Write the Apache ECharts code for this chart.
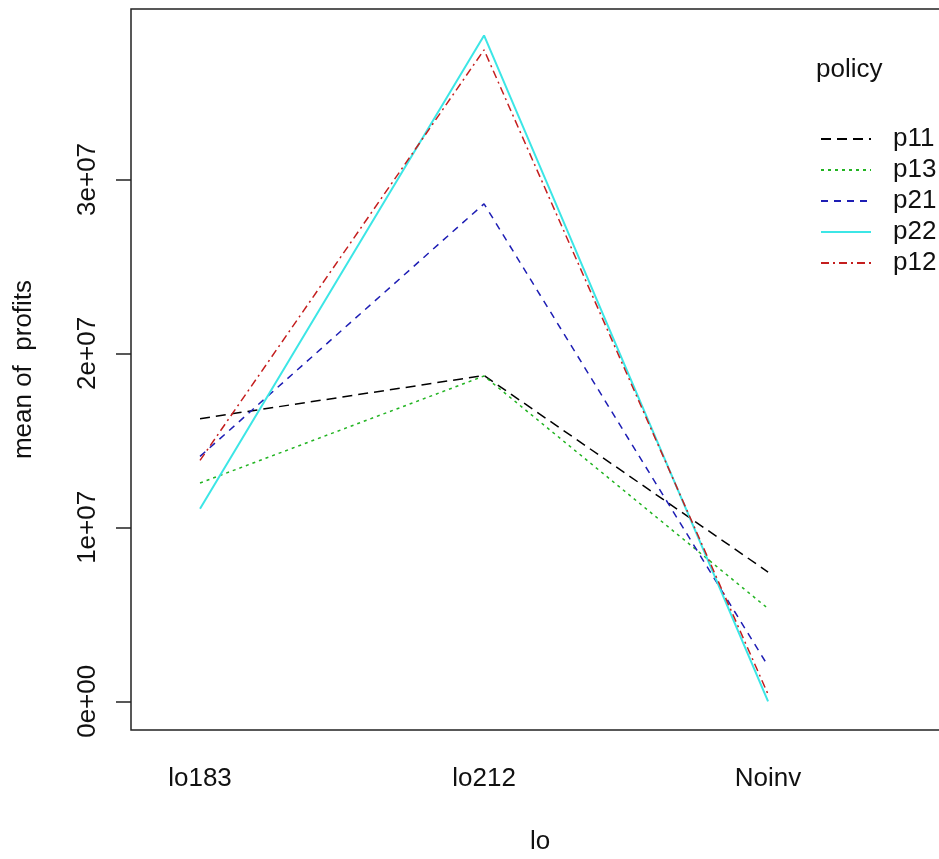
<!DOCTYPE html>
<html>
<head>
<meta charset="utf-8">
<script src="https://cdn.jsdelivr.net/npm/echarts@6/dist/echarts.min.js"></script>
<style>
  html, body { margin: 0; padding: 0; background: #fff; }
  #container { width: 939px; height: 859px; }
</style>
</head>
<body>
<div id="container"></div>
<script>
// levels of lo (x axis)
var categories = ['lo183', 'lo212', 'Noinv'];
// mean profits per policy
var policies = ['p11', 'p13', 'p21', 'p22', 'p12'];
var p11 = [1.625e7, 1.873e7, 0.743e7];
var p13 = [1.255e7, 1.870e7, 0.533e7];
var p21 = [1.408e7, 2.860e7, 0.203e7];
var p22 = [1.107e7, 3.828e7, 0.000e7];
var p12 = [1.385e7, 3.745e7, 0.040e7];
var yTicks = [0, 1e7, 2e7, 3e7];
var yTickLabels = ['0e+00', '1e+07', '2e+07', '3e+07'];

var values = { p11: p11, p13: p13, p21: p21, p22: p22, p12: p12 };
var styles = {
    p11: { color: '#000000', type: [10, 6], width: 1.5 },
    p13: { color: '#22b422', type: [3, 4], width: 1.5 },
    p21: { color: '#1e1eb4', type: [7, 6], width: 1.5 },
    p22: { color: '#3ce6e6', type: 'solid', width: 2 },
    p12: { color: '#c41e1e', type: [8, 4, 2, 4], width: 1.5 }
};

var FONT = 'Liberation Sans, Arial, sans-serif';
var FS = 26;
var dom = document.getElementById('container');
var myChart = echarts.init(dom);

var series = policies.map(function (name) {
    return {
        name: name,
        type: 'line',
        symbol: 'none',
        silent: true,
        animation: false,
        lineStyle: styles[name],
        itemStyle: { color: styles[name].color },
        data: values[name].map(function (v, i) { return [i + 1, v]; })
    };
});

var option = {
    backgroundColor: '#fff',
    title: {
        text: 'policy',
        left: 816,
        top: 57,
        padding: 0,
        textStyle: { fontFamily: FONT, fontSize: FS, fontWeight: 'normal', color: '#111' }
    },
    legend: {
        orient: 'vertical',
        left: 820,
        top: 126,
        padding: 0,
        itemWidth: 50,
        itemHeight: 14,
        itemGap: 5,
        data: policies,
        itemStyle: { opacity: 0 },
        textStyle: { fontFamily: FONT, fontSize: FS, color: '#111', padding: [0, 0, 0, 17] }
    },
    grid: {
        left: 131,
        top: 9,
        width: 818,
        height: 721,
        outerBoundsMode: 'none',
        show: true,
        borderColor: '#222',
        borderWidth: 1.5,
        backgroundColor: 'transparent'
    },
    xAxis: {
        type: 'value',
        min: 0.757,
        max: 3.637,
        name: 'lo',
        nameLocation: 'middle',
        nameGap: 99,
        nameTextStyle: { fontFamily: FONT, fontSize: FS, color: '#111' },
        axisLine: { show: false },
        axisTick: { show: false },
        splitLine: { show: false },
        axisLabel: {
            customValues: [1, 2, 3],
            margin: 36,
            fontFamily: FONT,
            fontSize: FS,
            color: '#111',
            formatter: function (v) { return categories[Math.round(v) - 1] || ''; }
        }
    },
    yAxis: {
        type: 'value',
        min: -1.65e6,
        max: 3.98e7,
        name: 'mean of  profits',
        nameLocation: 'middle',
        nameGap: 94,
        nameRotate: 90,
        nameTextStyle: { fontFamily: FONT, fontSize: FS, color: '#111' },
        axisLine: { show: false },
        splitLine: { show: false },
        axisTick: {
            show: true,
            customValues: yTicks,
            length: 15,
            lineStyle: { color: '#222', width: 1.5 }
        },
        axisLabel: {
            customValues: yTicks,
            rotate: 90,
            margin: 30,
            fontFamily: FONT,
            fontSize: FS,
            color: '#111',
            formatter: function (v) {
                var i = yTicks.indexOf(v);
                return i >= 0 ? yTickLabels[i] : '';
            }
        }
    },
    series: series
};

myChart.setOption(option);
window.onresize = function () { myChart.resize(); };
</script>
</body>
</html>
